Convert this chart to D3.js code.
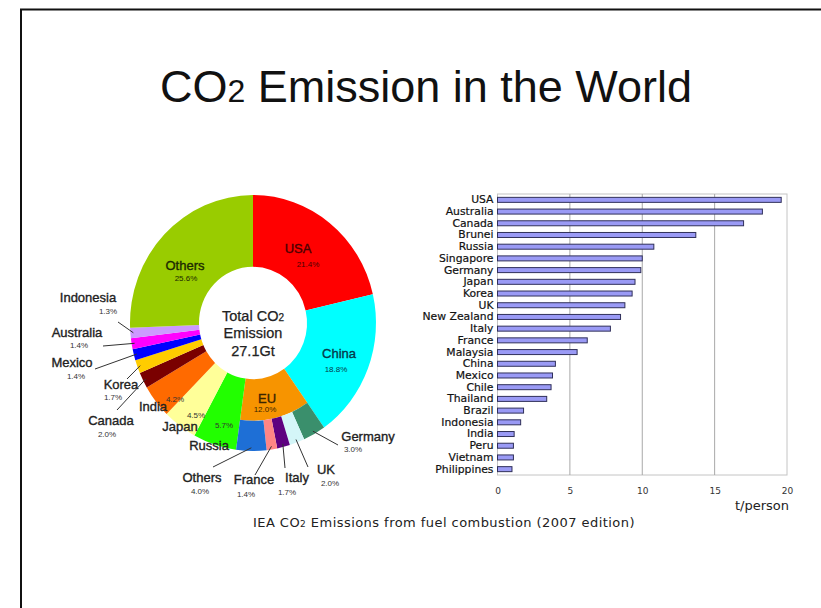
<!DOCTYPE html>
<html>
<head>
<meta charset="utf-8">
<script src="https://cdn.jsdelivr.net/npm/d3@7"></script>
<style>
  html, body { margin: 0; padding: 0; background: #fff; }
  svg { display: block; }
</style>
</head>
<body>
<svg id="chart" width="821" height="608"></svg>
<script>
// Share of world CO2 emissions (total 27.1 Gt), clockwise from 12 o'clock
const shareNames  = ["USA", "China", "EU", "Russia", "Japan", "India", "Canada", "Korea", "Mexico", "Australia", "Indonesia", "Others"];
const shareValues = [21.4, 18.8, 12.0, 5.7, 4.5, 4.2, 2.0, 1.7, 1.4, 1.4, 1.3, 25.6];

// Breakdown of the EU slice (outer ring)
const euNames  = ["Germany", "UK", "Italy", "France", "Others"];
const euValues = [3.0, 2.0, 1.7, 1.4, 4.0];

// Emissions per person (t/person)
const perCapitaCountries = ["USA", "Australia", "Canada", "Brunei", "Russia", "Singapore", "Germany", "Japan", "Korea", "UK", "New Zealand", "Italy", "France", "Malaysia", "China", "Mexico", "Chile", "Thailand", "Brazil", "Indonesia", "India", "Peru", "Vietnam", "Philippines"];
const perCapitaValues    = [19.6, 18.3, 17.0, 13.7, 10.8, 10.0, 9.9, 9.5, 9.3, 8.8, 8.5, 7.8, 6.2, 5.5, 4.0, 3.8, 3.7, 3.4, 1.8, 1.6, 1.15, 1.1, 1.1, 1.0];
const perCapitaTicks     = [0, 5, 10, 15, 20];

// ---- styling ----
const shareColors = {
  USA: "#ff0000", China: "#00ffff", EU: "#f79400", Russia: "#22ff00", Japan: "#ffff99",
  India: "#ff6a00", Canada: "#7a0000", Korea: "#ffcc00", Mexico: "#0000ff",
  Australia: "#ff00ff", Indonesia: "#cc99ff", Others: "#99cc00"
};
const euColors = { Germany: "#3a8f6c", UK: "#d4f6f8", Italy: "#5e0080", France: "#ff8585", Others: "#1e6fd6" };

const svg = d3.select("#chart");
const SANS = "'Liberation Sans', Arial, sans-serif";
const WIDE = "'DejaVu Sans', sans-serif";

// slide frame
svg.append("path").attr("d", "M21,608 V9.5 H821").attr("fill", "none").attr("stroke", "#111").attr("stroke-width", 2);

// title
const title = svg.append("text").attr("x", 426).attr("y", 102).attr("text-anchor", "middle")
  .attr("font-family", SANS).attr("font-size", 45).attr("fill", "#111");
title.append("tspan").text("CO");
title.append("tspan").attr("font-size", 32).text("2");
title.append("tspan").text(" Emission in the World");

// ================= donut =================
const cx = 253, cy = 323, rOuter = 123, rSplit = 94, rInner = 54, squash = 1.04;
const pie = d3.pie().sort(null).value(d => d.value);
const shareData = shareNames.map((n, i) => ({ name: n, value: shareValues[i] }));
const slices = pie(shareData);
const eu = slices.find(s => s.data.name === "EU");
const euSlices = d3.pie().sort(null).value(d => d.value)
  .startAngle(eu.startAngle).endAngle(eu.endAngle)(euNames.map((n, i) => ({ name: n, value: euValues[i] })));

const donut = svg.append("g").attr("transform", `translate(${cx},${cy}) scale(1,${squash})`);
const arcFull = d3.arc().innerRadius(rInner).outerRadius(rOuter);
const arcInnerHalf = d3.arc().innerRadius(rInner).outerRadius(rSplit);
const arcOuterHalf = d3.arc().innerRadius(rSplit).outerRadius(rOuter);

donut.selectAll("path.share").data(slices).join("path")
  .attr("class", "share")
  .attr("d", d => d.data.name === "EU" ? arcInnerHalf(d) : arcFull(d))
  .attr("fill", d => shareColors[d.data.name]);
donut.selectAll("path.eu").data(euSlices).join("path")
  .attr("class", "eu")
  .attr("d", arcOuterHalf)
  .attr("fill", d => euColors[d.data.name]);

// point on the ring edge at a slice's middle angle (page coordinates)
function ringPoint(s, r) {
  const a = (s.startAngle + s.endAngle) / 2;
  return [cx + r * Math.sin(a), cy - r * Math.cos(a) * squash];
}

// centre text
const centre = svg.append("g").attr("font-family", SANS).attr("font-size", 14.5).attr("fill", "#222")
  .attr("stroke", "#222").attr("stroke-width", 0.25).attr("text-anchor", "middle");
const c1 = centre.append("text").attr("x", cx).attr("y", 321);
c1.append("tspan").text("Total CO");
c1.append("tspan").attr("font-size", 10).text("2");
centre.append("text").attr("x", cx).attr("y", 338).text("Emission");
centre.append("text").attr("x", cx).attr("y", 356).text("27.1Gt");

// label layout: name position, value position, optional leader end
const labelLayout = [
  { key: "Others",    ring: "main", name: [185, 270], pct: [186, 281], color: "#1c2a00" },
  { key: "USA",       ring: "main", name: [298, 253], pct: [308, 267], color: "#4a0000" },
  { key: "China",     ring: "main", name: [339, 358], pct: [336, 372], color: "#063a4a" },
  { key: "EU",        ring: "main", name: [267, 403], pct: [265, 412], color: "#3a2400" },
  { key: "Russia",    ring: "main", name: [209, 450], pct: [224, 428] },
  { key: "Japan",     ring: "main", name: [180, 431], pct: [196, 418] },
  { key: "India",     ring: "main", name: [153, 411], pct: [175, 402] },
  { key: "Canada",    ring: "main", name: [111, 425], pct: [107, 437], leader: [117, 410] },
  { key: "Korea",     ring: "main", name: [121, 389], pct: [113, 400], leader: [127, 379] },
  { key: "Mexico",    ring: "main", name: [72, 367],  pct: [76, 379],  leader: [95, 369] },
  { key: "Australia", ring: "main", name: [77, 337],  pct: [79, 348],  leader: [103, 346] },
  { key: "Indonesia", ring: "main", name: [88, 302],  pct: [108, 314], leader: [118, 322] },
  { key: "Germany",   ring: "eu",   name: [368, 441], pct: [353, 452], leader: [338, 445] },
  { key: "UK",        ring: "eu",   name: [326, 474], pct: [330, 486], leader: [308, 467] },
  { key: "Italy",     ring: "eu",   name: [297, 482], pct: [287, 495], leader: [285, 468] },
  { key: "France",    ring: "eu",   name: [254, 484], pct: [246, 497], leader: [255, 475] },
  { key: "Others",    ring: "eu",   name: [202, 482], pct: [200, 494], leader: [213, 467] }
];

const labels = svg.append("g").attr("font-family", SANS);
labelLayout.forEach(l => {
  const s = (l.ring === "eu" ? euSlices : slices).find(d => d.data.name === l.key);
  if (l.leader) {
    const p = ringPoint(s, rOuter - 3);
    labels.append("line").attr("x1", p[0]).attr("y1", p[1]).attr("x2", l.leader[0]).attr("y2", l.leader[1])
      .attr("stroke", "#333").attr("stroke-width", 1);
  }
  const c = l.color || "#222";
  labels.append("text").attr("x", l.name[0]).attr("y", l.name[1]).attr("text-anchor", "middle")
    .attr("font-size", 13).attr("fill", c).attr("stroke", c).attr("stroke-width", 0.35).text(l.key);
  labels.append("text").attr("x", l.pct[0]).attr("y", l.pct[1]).attr("text-anchor", "middle")
    .attr("font-size", 8).attr("fill", l.color || "#333").text(d3.format(".1f")(s.data.value) + "%");
});

// ================= per-capita bars =================
const plot = { left: 497.5, right: 787, top: 194, bottom: 475 };
const x = d3.scaleLinear().domain([0, 20]).range([plot.left, plot.right]);
const y = d3.scaleBand().domain(perCapitaCountries).range([plot.top, plot.bottom]);
const barH = 5;

const bars = svg.append("g");
bars.append("rect").attr("x", plot.left).attr("y", plot.top)
  .attr("width", plot.right - plot.left).attr("height", plot.bottom - plot.top)
  .attr("fill", "none").attr("stroke", "#c4c4c4").attr("stroke-width", 1);
bars.selectAll("line.grid").data(perCapitaTicks.slice(1, -1)).join("line")
  .attr("class", "grid")
  .attr("x1", d => x(d)).attr("x2", d => x(d)).attr("y1", plot.top).attr("y2", plot.bottom)
  .attr("stroke", "#a8a8a8").attr("stroke-width", 1);

bars.selectAll("rect.bar").data(perCapitaValues).join("rect")
  .attr("class", "bar")
  .attr("x", x(0))
  .attr("y", (d, i) => y(perCapitaCountries[i]) + (y.bandwidth() - barH) / 2)
  .attr("width", d => x(d) - x(0))
  .attr("height", barH)
  .attr("fill", "#9a9af5").attr("stroke", "#30305a").attr("stroke-width", 1);

const yAxis = d3.axisLeft(y).tickSize(0).tickPadding(4);
const yg = svg.append("g").attr("transform", `translate(${plot.left},0)`).call(yAxis);
yg.select(".domain").remove();
yg.selectAll("text").attr("font-family", WIDE).attr("font-size", 10.8).attr("fill", "#111")
  .attr("stroke", "#111").attr("stroke-width", 0.2);

const xAxis = d3.axisBottom(x).tickValues(perCapitaTicks).tickSize(0).tickPadding(13).tickFormat(d3.format("d"));
const xg = svg.append("g").attr("transform", `translate(0,${plot.bottom})`).call(xAxis);
xg.select(".domain").remove();
xg.selectAll("text").attr("font-family", WIDE).attr("font-size", 9).attr("fill", "#333");

svg.append("text").attr("x", 789).attr("y", 510).attr("text-anchor", "end")
  .attr("font-family", WIDE).attr("font-size", 13).attr("fill", "#222").text("t/person");

// source caption
const cap = svg.append("text").attr("x", 253).attr("y", 527)
  .attr("font-family", WIDE).attr("font-size", 13).attr("letter-spacing", 0.45).attr("fill", "#222");
cap.append("tspan").text("IEA CO");
cap.append("tspan").attr("font-size", 9).text("2");
cap.append("tspan").text(" Emissions from fuel combustion (2007 edition)");
</script>
</body>
</html>
